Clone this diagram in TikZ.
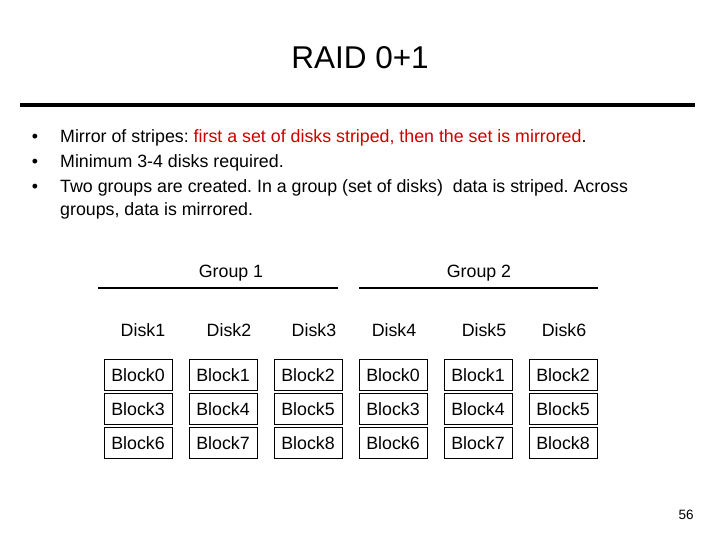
\documentclass[tikz,border=0pt]{standalone}
\usepackage{fontspec}
\setmainfont{Liberation Sans}
\definecolor{raidred}{RGB}{204,0,0}
\frenchspacing
\begin{document}
\begin{tikzpicture}[x=1pt,y=-1pt,
  every node/.style={inner sep=0pt, font=\fontsize{17.8}{21}\selectfont},
  blk/.style={draw, minimum width=68pt, minimum height=31pt, line width=0.6pt}]
\useasboundingbox (0,0) rectangle (720,540);
\node (T) at (360,58) {\fontsize{31.5}{36}\selectfont RAID 0+1};
\coordinate (R1) at (20,105);
\coordinate (R2) at (695,105);
\draw[line width=3.5pt] (R1) -- (R2);
\node (B1) at (35,138) {\textbullet};
\node (B2) at (35,163) {\textbullet};
\node (B3) at (35,188) {\textbullet};
\node[anchor=west] (L1) at (60,138) {Mirror of stripes: \textcolor{raidred}{first a set of disks striped, then the set is mirrored}.};
\node[anchor=west] (L2) at (60,163) {Minimum 3-4 disks required.};
\node[anchor=west] (L3) at (60,188) {Two groups are created. In a group (set of disks)\ \ data is striped. Across};
\node[anchor=west] (L4) at (60,211) {groups, data is mirrored.};
\node (G1) at (231,273) {Group 1};
\node (G2) at (479,273) {Group 2};
\coordinate (G1a) at (98,288);
\coordinate (G1b) at (338,288);
\coordinate (G2a) at (359,288);
\coordinate (G2b) at (598,288);
\draw[line width=1.2pt] (G1a) -- (G1b);
\draw[line width=1.2pt] (G2a) -- (G2b);
\foreach \i/\x in {1/143,2/229,3/314,4/394,5/484,6/564}
  \node (D\i) at (\x,330) {Disk\i};
\foreach \r/\y in {0/375,1/409,2/443}
  \foreach \c/\x in {0/138,1/223,2/308,3/393,4/478,5/563}{
    \pgfmathtruncatemacro{\b}{3*\r+mod(\c,3)}
    \node[blk] (K\r\c) at (\x,\y) {Block\b};
  }
\node (P) at (686,515) {\fontsize{13.5}{16}\selectfont 56};
\end{tikzpicture}
\end{document}
